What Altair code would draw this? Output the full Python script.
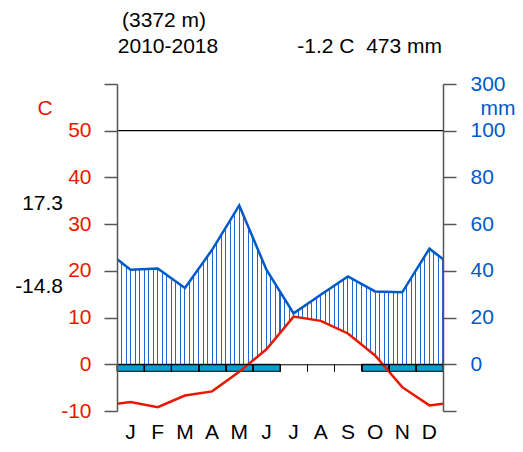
import altair as alt
import pandas as pd

# ---- data (Walter-Lieth climate diagram) ----
months = ["J", "F", "M", "A", "M", "J", "J", "A", "S", "O", "N", "D"]
temp_c = [-8.1, -9.2, -6.7, -5.8, -1.6, 3.2, 10.2, 9.3, 6.6, 1.9, -4.9, -8.8]
precip_mm = [40.5, 41.0, 32.7, 49.0, 68.0, 40.5, 21.8, 29.8, 37.6, 31.2, 30.8, 49.5]
sure_frost = [1, 1, 1, 1, 1, 1, 0, 0, 0, 1, 1, 1]
station_alt = ["(3372 m)"]
period = ["2010-2018"]
annual = ["-1.2 C\u00a0 473 mm"]
abs_max = ["17.3"]
abs_min = ["-14.8"]
left_unit = ["C"]
right_unit = ["mm"]
ref_line = [50]

TCOL = "#e81800"
PCOL = "#005ac8"
HCOL = "#1f66d0"
SFCOL = "#09a0d1"
AXCOL = "#555555"
FONT = "Liberation Sans"
FS = 21
W, H = 326, 327

# curves wrap around the year (Dec before Jan, Jan after Dec), clipped at the frame
order = [11] + list(range(12)) + [0]
pos = [-0.5] + [i + 0.5 for i in range(12)] + [12.5]
curves = pd.DataFrame({
    "pos": pos,
    "temp": [temp_c[i] for i in order],
    "precip": [precip_mm[i] for i in order],
})
mdf = pd.DataFrame({"pos": [i + 0.5 for i in range(12)], "month": months, "frost": sure_frost})

xs = alt.Scale(domain=[0, 12], nice=False, zero=False)
ys = alt.Scale(domain=[-10, 60], nice=False, zero=False)

xaxis = alt.Axis(orient="bottom", offset=-H * 10 / 70, values=list(range(1, 12)), labels=False,
                 tickSize=7, tickColor="black", tickWidth=1, domainColor="black", domainWidth=1,
                 grid=False, title=None, zindex=1)
laxis = alt.Axis(orient="left", values=[-10, 0, 10, 20, 30, 40, 50, 60],
                 labelExpr="datum.value == 60 ? '' : '' + datum.value",
                 tickSize=13, tickWidth=1.5, tickColor=AXCOL, domainColor=AXCOL, domainWidth=1.5,
                 labelColor=TCOL, labelFont=FONT, labelFontSize=FS, labelPadding=13,
                 labelOverlap=False, grid=False, title=None, zindex=1)
raxis = alt.Axis(orient="right", values=[-10, 0, 10, 20, 30, 40, 50, 60],
                 labelExpr="datum.value == 60 ? '300' : (datum.value < 0 ? '' : '' + datum.value * 2)",
                 tickSize=13, tickWidth=1.5, tickColor=AXCOL, domainColor=AXCOL, domainWidth=1.5,
                 labelColor=PCOL, labelFont=FONT, labelFontSize=FS, labelPadding=14,
                 labelOverlap=False, grid=False, title=None, zindex=1)

X = alt.X("pos:Q", scale=xs, axis=xaxis)

# vertical hatching as a striped gradient fill (bbox spans pos -0.5 .. 12.5)
span = 13.0
wfrac = 1.05 / (span * W / 12.0)
stops = [{"offset": 0.0, "color": "white"}]
for j in range(-2, 75):
    o = (j / 6.0 + 0.5) / span
    a, b = max(o - wfrac / 2, 0.0), min(o + wfrac / 2, 1.0)
    stops += [{"offset": a, "color": "white"}, {"offset": a, "color": HCOL},
              {"offset": b, "color": HCOL}, {"offset": b, "color": "white"}]
stops.append({"offset": 1.0, "color": "white"})
grad = {"gradient": "linear", "x1": 0, "x2": 1, "y1": 0, "y2": 0, "stops": stops}

hatch = alt.Chart(curves).transform_calculate(p2="datum.precip / 2").mark_area(
    clip=True, fill=grad).encode(
    x=X, y=alt.Y("p2:Q", scale=ys, axis=laxis), y2=alt.datum(0))

mask = alt.Chart(curves).mark_area(clip=True, fill="white").encode(
    x=X, y=alt.Y("temp:Q", scale=ys, axis=laxis), y2=alt.datum(0))

rule50 = alt.Chart(pd.DataFrame({"v": ref_line})).mark_rule(color="black", strokeWidth=1.2).encode(
    y=alt.Y("v:Q", scale=ys, axis=laxis))

frost = alt.Chart(mdf).transform_filter("datum.frost == 1").transform_calculate(
    x0="datum.pos - 0.5", x1="datum.pos + 0.5").mark_rect(
    fill=SFCOL, stroke="black", strokeWidth=1).encode(
    x=alt.X("x0:Q", scale=xs, axis=xaxis), x2="x1:Q",
    y=alt.YDatum(0, scale=ys, axis=laxis), y2=alt.datum(-1.5))

tline = alt.Chart(curves).mark_line(clip=True, color=TCOL, strokeWidth=2.5).encode(
    x=X, y=alt.Y("temp:Q", scale=ys, axis=laxis))

pline = alt.Chart(curves).transform_calculate(p2="datum.precip / 2").mark_line(
    clip=True, color=PCOL, strokeWidth=2.5).encode(
    x=X, y=alt.Y("p2:Q", scale=ys, axis=laxis))

def label(txt, x, y, color="black", align="center"):
    return alt.Chart(pd.DataFrame({"t": txt})).mark_text(
        font=FONT, fontSize=FS, color=color, align=align, baseline="alphabetic").encode(
        x=alt.value(x), y=alt.value(y), text="t:N")

month_txt = alt.Chart(mdf).mark_text(font=FONT, fontSize=FS, color="black",
                                      baseline="alphabetic").encode(
    x=X, y=alt.value(355), text="month:N")

texts = [
    label(station_alt, 47, -57),
    label(period, 51, -31),
    label(annual, 325, -31, align="right"),
    label(abs_max, -54, 126, align="right"),
    label(abs_min, -54, 209, align="right"),
    label(left_unit, -72, 31, color=TCOL),
    label(right_unit, 381, 31, color=PCOL),
]

inner = alt.layer(hatch, mask, rule50, frost, tline, pline, month_txt, *texts)

right = alt.Chart(curves).mark_line(opacity=0).encode(
    x=X, y=alt.Y("temp:Q", scale=ys, axis=raxis))

chart = alt.layer(inner, right).resolve_scale(y="independent").properties(
    width=W, height=H,
    autosize=alt.AutoSizeParams(type="none"),
    padding={"left": 109, "top": 76, "right": 72, "bottom": 33},
).configure_view(stroke=None)

chart.save("out.html", embed_options={"renderer": "svg", "actions": False})
